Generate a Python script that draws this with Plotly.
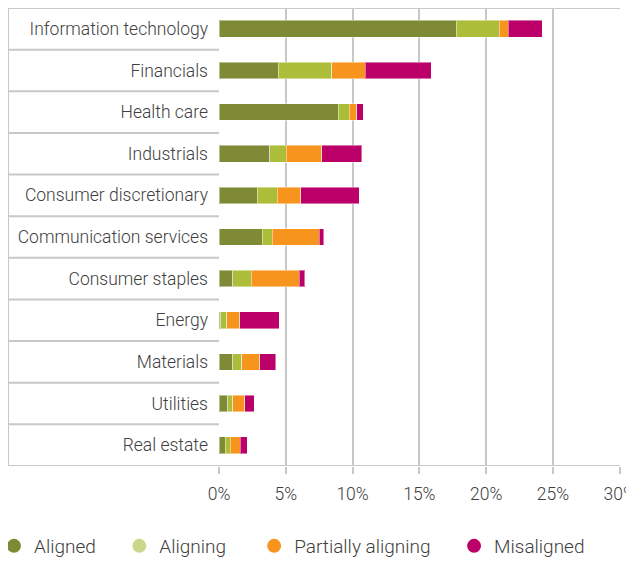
import plotly.graph_objects as go

categories = ["Information technology", "Financials", "Health care", "Industrials",
              "Consumer discretionary", "Communication services", "Consumer staples",
              "Energy", "Materials", "Utilities", "Real estate"]
aligned = [17.75, 4.45, 8.92, 3.80, 2.85, 3.22, 1.03, 0.13, 1.03, 0.65, 0.48]
aligning = [3.24, 4.00, 0.83, 1.25, 1.50, 0.75, 1.37, 0.45, 0.67, 0.38, 0.37]
partially = [0.67, 2.50, 0.57, 2.65, 1.77, 3.53, 3.60, 0.97, 1.35, 0.90, 0.75]
misaligned = [2.53, 4.95, 0.48, 2.97, 4.38, 0.35, 0.42, 2.95, 1.18, 0.72, 0.53]
series_names = ["Aligned", "Aligning", "Partially aligning", "Misaligned"]
bar_colors = ["#7f8a37", "#abbd39", "#f7941d", "#bc006a"]
legend_colors = ["#7f8a37", "#cdd78a", "#f7941d", "#bc006a"]
x_ticks = [0, 5, 10, 15, 20, 25, 30]
x_tick_labels = ["0%", "5%", "10%", "15%", "20%", "25%", "30%"]

FONT = "Roboto"
TXT = "#404040"
GRID = "#c8c8c8"
FS = 17.5
LFS = 19
NB = "\u00a0"

# page body has an 8px margin; figure is sized/offset accordingly
W, H = 640, 553
ML, MT = 211, 0
PW = 401
PH = 458
MR = W - ML - PW
MB = H - MT - PH

fig = go.Figure()
for name, vals, col in zip(series_names, [aligned, aligning, partially, misaligned], bar_colors):
    fig.add_trace(go.Bar(
        y=categories, x=vals, orientation="h", name=name,
        marker=dict(color=col, line=dict(color="rgba(255,255,255,0.45)", width=1)),
        width=0.4, showlegend=False,
    ))
legend_pad = [4, 5, 4, 0]
for name, col, p in zip(series_names, legend_colors, legend_pad):
    fig.add_trace(go.Scatter(
        x=[None], y=[None], mode="markers", name=name + NB * p,
        marker=dict(symbol="circle", size=14, color=col),
    ))

left_paper = -ML / PW
shapes = []
n = len(categories)
for k in range(n + 1):
    yv = k - 0.5
    full = k == 0 or k == n
    shapes.append(dict(type="line", xref="paper", yref="y", x0=left_paper, x1=1 if full else 0,
                       y0=yv, y1=yv, line=dict(color=GRID, width=2), layer="below"))
shapes.append(dict(type="line", xref="paper", yref="y", x0=left_paper, x1=left_paper,
                   y0=-0.5, y1=n - 0.5, line=dict(color=GRID, width=2), layer="below"))

fig.update_layout(
    width=W, height=H,
    margin=dict(l=ML, r=MR, t=MT, b=MB, autoexpand=False),
    paper_bgcolor="white", plot_bgcolor="white",
    barmode="stack",
    font=dict(family=FONT, size=FS, color=TXT, weight=300),
    shapes=shapes,
    xaxis=dict(range=[0, 30.02], tickvals=x_ticks, ticktext=x_tick_labels,
               showgrid=True, gridcolor=GRID, gridwidth=2, zeroline=False,
               ticks="outside", ticklen=7, tickwidth=2, tickcolor=GRID,
               ticklabelstandoff=5, automargin=False, ticklabeloverflow="allow",
               showline=False, tickfont=dict(family=FONT, size=FS, color=TXT, weight=300),
               fixedrange=True),
    yaxis=dict(categoryorder="array", categoryarray=categories, range=[n - 0.5, -0.5],
               showgrid=False, zeroline=False, showline=False, ticks="",
               ticklabelstandoff=10, automargin=False,
               tickfont=dict(family=FONT, size=FS, color=TXT, weight=300)),
    legend=dict(orientation="h", xref="paper", x=(-14 - ML) / PW, xanchor="left",
                yref="paper", y=-(538 - PH) / PH, yanchor="middle",
                font=dict(family=FONT, size=LFS, color=TXT, weight=300),
                itemsizing="trace", traceorder="normal"),
)

fig.write_html("out.html")
